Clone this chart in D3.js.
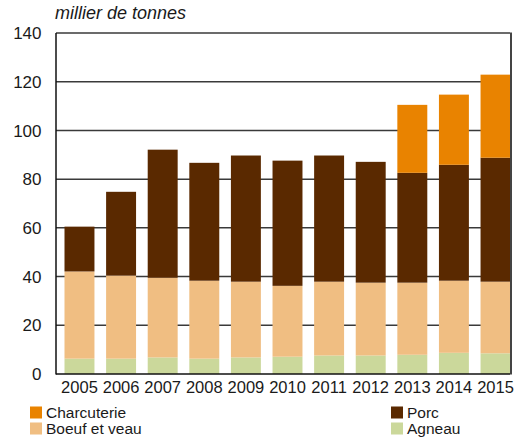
<!DOCTYPE html>
<html>
<head>
<meta charset="utf-8">
<script src="https://cdn.jsdelivr.net/npm/d3@7"></script>
<style>
  body { margin: 0; background: #fff; }
  text { font-family: "Liberation Sans", Arial, sans-serif; fill: #1a1a1a; }
</style>
</head>
<body>
<div id="chart"></div>
<script>
// data (milliers de tonnes)
const years = ["2005", "2006", "2007", "2008", "2009", "2010", "2011", "2012", "2013", "2014", "2015"];
const agneau = [6.3, 6.3, 6.8, 6.3, 6.8, 7.1, 7.6, 7.6, 7.9, 8.7, 8.5];
const boeuf = [35.8, 34.1, 32.7, 32.0, 31.1, 29.1, 30.3, 29.9, 29.6, 29.6, 29.4];
const porc = [18.4, 34.4, 52.6, 48.4, 51.8, 51.4, 51.8, 49.6, 45.1, 47.6, 50.9];
const charcuterie = [0, 0, 0, 0, 0, 0, 0, 0, 27.9, 28.8, 34.1];
const yTicks = [0, 20, 40, 60, 80, 100, 120, 140];
const seriesNames = ["Agneau", "Boeuf et veau", "Porc", "Charcuterie"];

const width = 519, height = 440;
const margins = {top: 33, bottom: 66, left: 56, right: 9};
const x0 = margins.left, x1 = width - margins.right;
const y0 = height - margins.bottom, y1 = margins.top;

// colour per series
const colorSeries = function(name) {
    if (name == "Charcuterie") return "#e98300";
    else if (name == "Porc") return "#5a2900";
    else if (name == "Boeuf et veau") return "#f0be82";
    else return "#cbd89b";
};

const svg = d3.select("#chart").append("svg")
    .attr("width", width)
    .attr("height", height);

const rows = years.map((y, i) => ({
    year: y,
    "Agneau": agneau[i],
    "Boeuf et veau": boeuf[i],
    "Porc": porc[i],
    "Charcuterie": charcuterie[i]
}));
const stacked = d3.stack().keys(seriesNames)(rows);

const x_scale = d3.scaleBand()
    .domain(years)
    .range([x0 + 8.5, x1 + 0.5])
    .paddingInner(0.28)
    .paddingOuter(0);

const y_scale = d3.scaleLinear()
    .domain([0, 140])
    .range([y0, y1]);

// gridlines
svg.append("g")
    .selectAll("line")
    .data(yTicks.filter(d => d > 0))
    .enter()
    .append("line")
    .attr("x1", x0)
    .attr("x2", x1)
    .attr("y1", d => y_scale(d))
    .attr("y2", d => y_scale(d))
    .attr("stroke", "#3a3a3a")
    .attr("stroke-width", 1.5);

// bars
const layers = svg.selectAll(".layer")
    .data(stacked)
    .enter()
    .append("g")
    .attr("class", "layer")
    .style("fill", d => colorSeries(d.key));

layers.selectAll("rect")
    .data(d => d)
    .enter()
    .append("rect")
    .attr("x", d => x_scale(d.data.year))
    .attr("width", x_scale.bandwidth())
    .attr("y", d => y_scale(d[1]))
    .attr("height", d => y_scale(d[0]) - y_scale(d[1]));

// frame: left axis, bottom axis, right edge
svg.append("line")
    .attr("x1", x0).attr("x2", x0)
    .attr("y1", y1).attr("y2", y0 + 0.5)
    .attr("stroke", "#111").attr("stroke-width", 1.5);
svg.append("line")
    .attr("x1", x0).attr("x2", x1)
    .attr("y1", y0).attr("y2", y0)
    .attr("stroke", "#111").attr("stroke-width", 1.5);
svg.append("line")
    .attr("x1", x1 + 1).attr("x2", x1 + 1)
    .attr("y1", y1 - 0.5).attr("y2", y0 + 0.5)
    .attr("stroke", "#444").attr("stroke-width", 2);

// y tick labels
svg.append("g")
    .selectAll("text")
    .data(yTicks)
    .enter()
    .append("text")
    .attr("x", x0 - 14.5)
    .attr("y", d => y_scale(d))
    .attr("dy", "0.36em")
    .attr("text-anchor", "end")
    .style("font-size", "17px")
    .text(d => d);

// x labels
svg.append("g")
    .selectAll("text")
    .data(years)
    .enter()
    .append("text")
    .attr("x", d => x_scale(d) + x_scale.bandwidth() / 2)
    .attr("y", y0 + 18.5)
    .attr("text-anchor", "middle")
    .style("font-size", "16.5px")
    .text(d => d);

// unit label
svg.append("text")
    .attr("x", 55)
    .attr("y", 18.5)
    .style("font-size", "18px")
    .style("font-style", "italic")
    .text("millier de tonnes");

// legend
const legendItems = [
    {name: "Charcuterie", x: 30, y: 406.5},
    {name: "Boeuf et veau", x: 30, y: 422.5},
    {name: "Porc", x: 391, y: 406.5},
    {name: "Agneau", x: 391, y: 422.5}
];
const legend = svg.selectAll(".legend")
    .data(legendItems)
    .enter()
    .append("g")
    .attr("class", "legend")
    .attr("transform", d => `translate(${d.x}, ${d.y})`);
legend.append("rect")
    .attr("width", 12)
    .attr("height", 12)
    .style("fill", d => colorSeries(d.name));
legend.append("text")
    .attr("x", 16)
    .attr("y", 11.5)
    .style("font-size", "15.5px")
    .text(d => d.name);
</script>
</body>
</html>
